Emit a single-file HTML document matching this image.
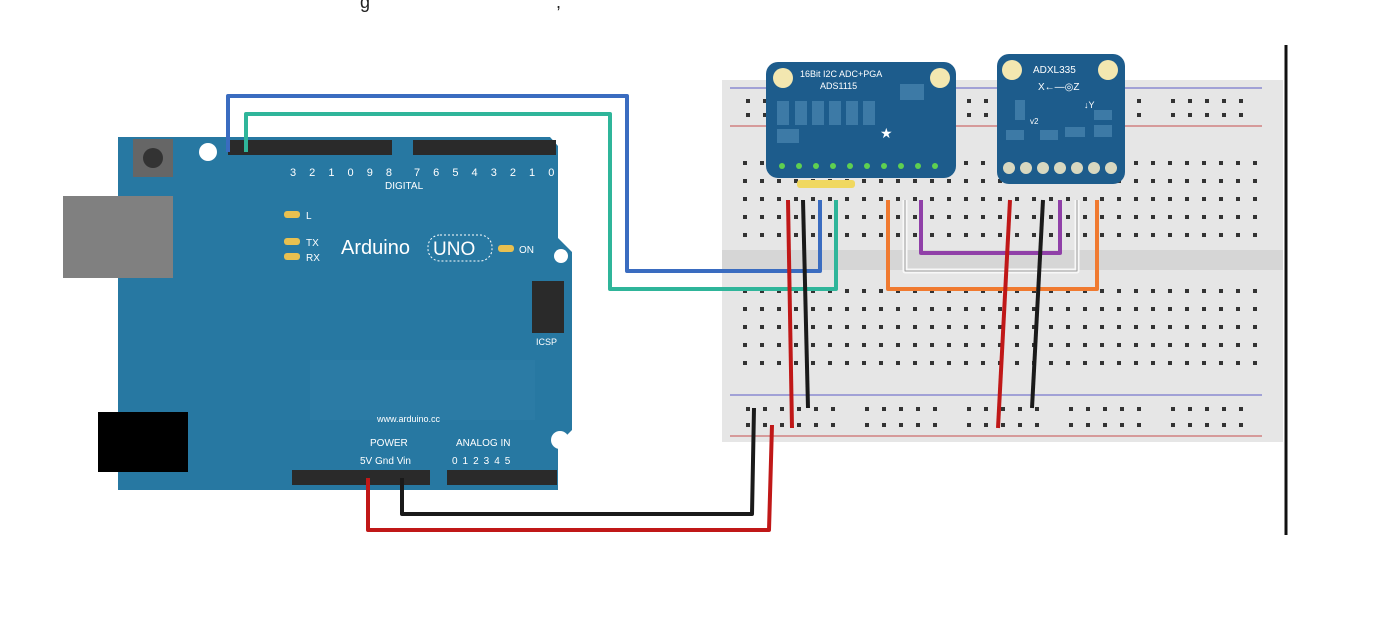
<!DOCTYPE html>
<html><head><meta charset="utf-8"><style>
html,body{margin:0;padding:0;background:#fff;}
svg{display:block;}
text{font-family:"Liberation Sans",sans-serif;}
</style></head><body>
<svg width="1400" height="621" viewBox="0 0 1400 621" xmlns="http://www.w3.org/2000/svg">
<defs>
<pattern id="holeA" x="737" y="156" width="17" height="18" patternUnits="userSpaceOnUse">
<rect x="6" y="5" width="4" height="4" fill="#333"/></pattern>
<pattern id="holeB" x="737" y="284" width="17" height="18" patternUnits="userSpaceOnUse">
<rect x="6" y="5" width="4" height="4" fill="#333"/></pattern>
<pattern id="railA" x="740" y="94" width="17" height="14" patternUnits="userSpaceOnUse">
<rect x="6" y="5" width="4" height="4" fill="#333"/></pattern>
<pattern id="railB" x="740" y="402" width="17" height="16" patternUnits="userSpaceOnUse">
<rect x="6" y="5" width="4" height="4" fill="#333"/></pattern>
</defs>
<rect width="1400" height="621" fill="#fff"/>
<text x="360" y="8" font-size="18" fill="#222">g</text>
<text x="556" y="8" font-size="18" fill="#222">,</text>
<!-- breadboard -->
<rect x="722" y="80" width="561" height="362" fill="#e6e6e6"/>
<line x1="730" y1="88" x2="1262" y2="88" stroke="#8a8ad0" stroke-width="1.5"/>
<line x1="730" y1="126" x2="1262" y2="126" stroke="#d08080" stroke-width="1.5"/>
<line x1="730" y1="395" x2="1262" y2="395" stroke="#8a8ad0" stroke-width="1.5"/>
<line x1="730" y1="436" x2="1262" y2="436" stroke="#d08080" stroke-width="1.5"/>
<rect x="722" y="250" width="561" height="20" fill="#d6d6d6"/>
<rect x="740" y="94" width="510" height="28" fill="url(#railA)"/>
<rect x="737" y="156" width="527" height="90" fill="url(#holeA)"/>
<rect x="737" y="284" width="527" height="90" fill="url(#holeB)"/>
<rect x="740" y="402" width="510" height="30" fill="url(#railB)"/>
<!-- rail gaps -->
<rect x="838" y="94" width="14" height="28" fill="#e6e6e6"/><rect x="940" y="94" width="14" height="28" fill="#e6e6e6"/>
<rect x="1042" y="94" width="14" height="28" fill="#e6e6e6"/><rect x="1144" y="94" width="14" height="28" fill="#e6e6e6"/>
<rect x="838" y="402" width="14" height="30" fill="#e6e6e6"/><rect x="940" y="402" width="14" height="30" fill="#e6e6e6"/>
<rect x="1042" y="402" width="14" height="30" fill="#e6e6e6"/><rect x="1144" y="402" width="14" height="30" fill="#e6e6e6"/>
<line x1="1286" y1="45" x2="1286" y2="535" stroke="#111" stroke-width="3"/>
<!-- Arduino -->
<path d="M118 137 H550 L558 146 V238 L572 252 V430 L558 444 V490 H118 Z" fill="#2778a2"/>
<rect x="63" y="196" width="110" height="82" fill="#808080"/>
<rect x="98" y="412" width="90" height="60" fill="#000"/>
<rect x="133" y="139" width="40" height="38" fill="#666"/><circle cx="153" cy="158" r="10" fill="#333"/>
<circle cx="208" cy="152" r="9" fill="#fff"/><circle cx="561" cy="256" r="7" fill="#fff"/><circle cx="560" cy="440" r="9" fill="#fff"/>
<rect x="228" y="140" width="164" height="15" fill="#2a2a2a"/>
<rect x="413" y="140" width="143" height="15" fill="#2a2a2a"/>
<rect x="292" y="470" width="138" height="15" fill="#2a2a2a"/>
<rect x="447" y="470" width="110" height="15" fill="#2a2a2a"/>
<rect x="532" y="281" width="32" height="52" fill="#2a2a2a"/>
<rect x="310" y="360" width="225" height="60" fill="#2e7da6" opacity="0.6"/>
<g fill="#fff" font-size="12">
<text x="341" y="254" font-size="20">Arduino</text>
<rect x="428" y="235" width="64" height="26" rx="12" fill="none" stroke="#fff" stroke-dasharray="2 2"/>
<text x="433" y="255" font-size="19">UNO</text>
<text x="519" y="253" font-size="10">ON</text>
<text x="306" y="219" font-size="10">L</text><text x="306" y="246" font-size="10">TX</text><text x="306" y="261" font-size="10">RX</text>
<text x="385" y="189" font-size="10">DIGITAL</text>
<text x="290" y="176" font-size="11" letter-spacing="5">3 2 1 0 9 8</text>
<text x="414" y="176" font-size="11" letter-spacing="5">7 6 5 4 3 2 1 0</text>
<text x="377" y="422" font-size="9">www.arduino.cc</text>
<text x="370" y="446" font-size="10">POWER</text><text x="456" y="446" font-size="10">ANALOG IN</text>
<text x="360" y="464" font-size="10">5V  Gnd  Vin</text>
<text x="452" y="464" font-size="10" letter-spacing="5">012345</text>
<text x="536" y="345" font-size="9">ICSP</text>
</g>
<g fill="#e8c050"><rect x="284" y="211" width="16" height="7" rx="3"/><rect x="284" y="238" width="16" height="7" rx="3"/><rect x="284" y="253" width="16" height="7" rx="3"/><rect x="498" y="245" width="16" height="7" rx="3"/></g>
<!-- ADS1115 -->
<rect x="766" y="62" width="190" height="116" rx="12" fill="#1d5c8c"/>
<circle cx="783" cy="78" r="10" fill="#f3e7b0"/><circle cx="940" cy="78" r="10" fill="#f3e7b0"/>
<text x="800" y="77" font-size="9" fill="#fff" font-family="Liberation Mono">16Bit I2C ADC+PGA</text>
<text x="820" y="89" font-size="9" fill="#fff" font-family="Liberation Mono">ADS1115</text>
<g fill="#3d7aa6"><rect x="777" y="101" width="12" height="24"/><rect x="795" y="101" width="12" height="24"/><rect x="812" y="101" width="12" height="24"/><rect x="829" y="101" width="12" height="24"/><rect x="846" y="101" width="12" height="24"/><rect x="863" y="101" width="12" height="24"/><rect x="900" y="84" width="24" height="16"/><rect x="777" y="129" width="22" height="14"/></g>
<text x="880" y="138" font-size="14" fill="#fff">★</text>
<g fill="#5fd050"><circle cx="782" cy="166" r="3"/><circle cx="799" cy="166" r="3"/><circle cx="816" cy="166" r="3"/><circle cx="833" cy="166" r="3"/><circle cx="850" cy="166" r="3"/><circle cx="867" cy="166" r="3"/><circle cx="884" cy="166" r="3"/><circle cx="901" cy="166" r="3"/><circle cx="918" cy="166" r="3"/><circle cx="935" cy="166" r="3"/></g>
<rect x="797" y="180" width="58" height="8" rx="3" fill="#f0d860"/>
<!-- ADXL335 -->
<rect x="997" y="54" width="128" height="130" rx="12" fill="#1d5c8c"/>
<circle cx="1012" cy="70" r="10" fill="#f3e7b0"/><circle cx="1108" cy="70" r="10" fill="#f3e7b0"/>
<text x="1033" y="73" font-size="10" fill="#fff" font-family="Liberation Mono">ADXL335</text>
<text x="1038" y="90" font-size="10" fill="#fff">X←—◎Z</text>
<text x="1084" y="108" font-size="9" fill="#fff">↓Y</text>
<text x="1030" y="124" font-size="8" fill="#fff">v2</text>
<g fill="#3d7aa6"><rect x="1015" y="100" width="10" height="20"/><rect x="1006" y="130" width="18" height="10"/><rect x="1040" y="130" width="18" height="10"/><rect x="1065" y="127" width="20" height="10"/><rect x="1094" y="110" width="18" height="10"/><rect x="1094" y="125" width="18" height="12"/></g>
<g fill="#d8d8c0"><circle cx="1009" cy="168" r="6"/><circle cx="1026" cy="168" r="6"/><circle cx="1043" cy="168" r="6"/><circle cx="1060" cy="168" r="6"/><circle cx="1077" cy="168" r="6"/><circle cx="1094" cy="168" r="6"/><circle cx="1111" cy="168" r="6"/></g>
<!-- wires -->
<g fill="none" stroke-width="4" stroke-linejoin="round">
<polyline points="228,152 228,96 627,96 627,271 820,271 820,200" stroke="#3a6cc0"/>
<polyline points="246,152 246,114 610,114 610,289 836,289 836,200" stroke="#2fb59a"/>
<polyline points="888,200 888,289 1097,289 1097,200" stroke="#f07a30"/>
<polyline points="905,200 905,271 1077,271 1077,200" stroke="#f8f8f8" stroke-width="5"/>
<polyline points="905,200 905,271 1077,271 1077,200" stroke="#999" stroke-width="1"/>
<polyline points="921,200 921,253 1060,253 1060,200" stroke="#9040a8"/>
<line x1="788" y1="200" x2="792" y2="428" stroke="#c01818"/>
<line x1="803" y1="200" x2="808" y2="408" stroke="#1a1a1a"/>
<line x1="1010" y1="200" x2="998" y2="428" stroke="#c01818"/>
<line x1="1043" y1="200" x2="1032" y2="408" stroke="#1a1a1a"/>
<polyline points="402,478 402,514 752,514 754,408" stroke="#1a1a1a"/>
<polyline points="368,478 368,530 769,530 772,425" stroke="#c01818"/>
</g>
</svg>
</body></html>
